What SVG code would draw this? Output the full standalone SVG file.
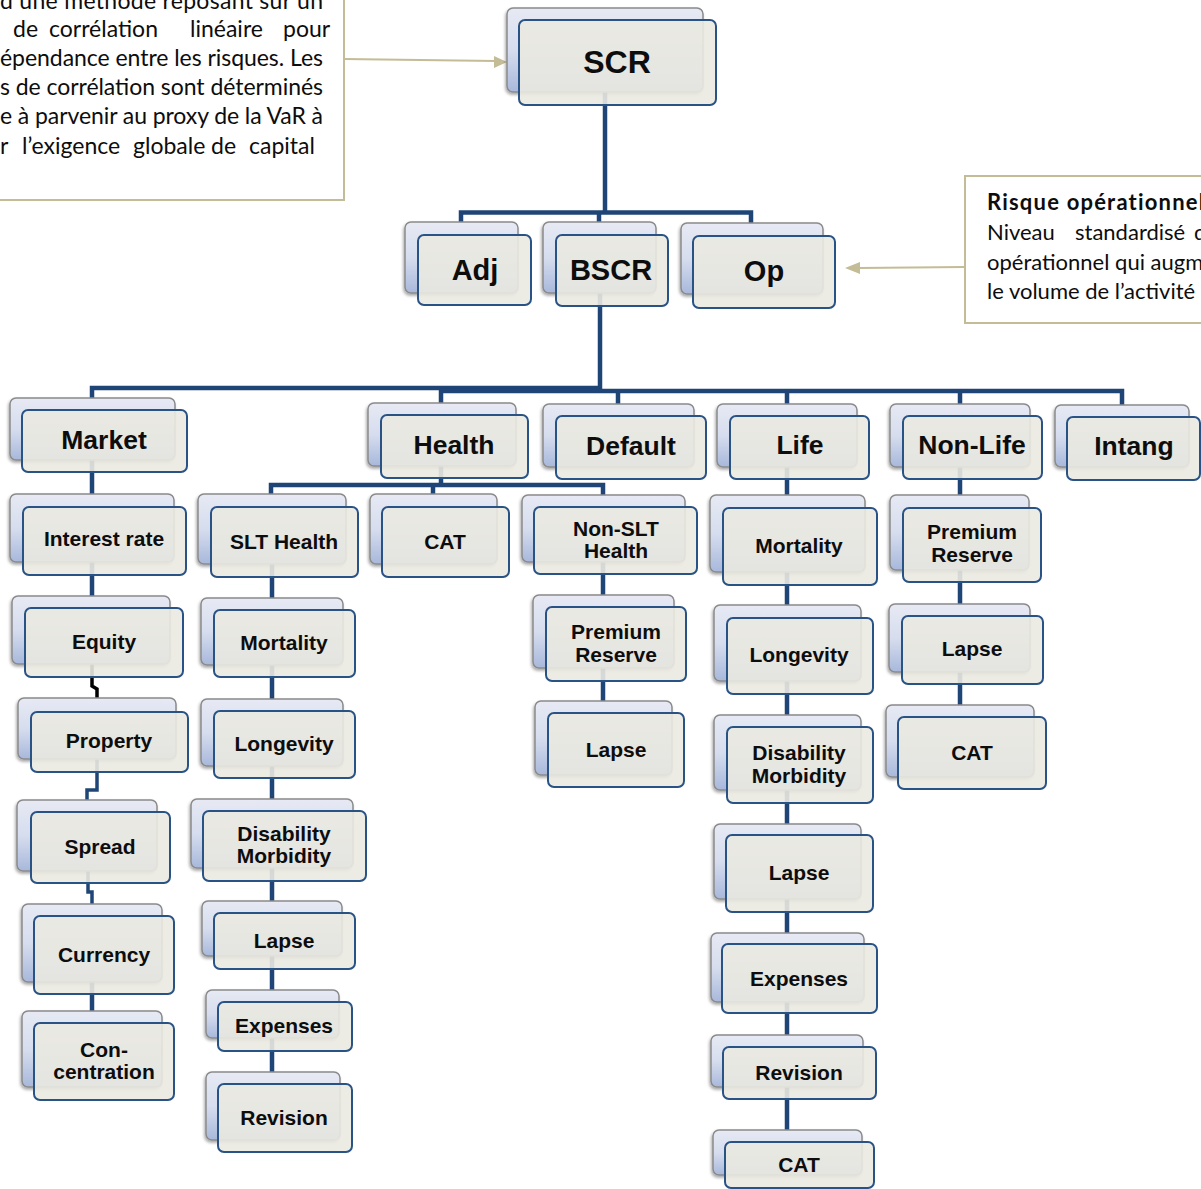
<svg xmlns="http://www.w3.org/2000/svg" width="1201" height="1189" viewBox="0 0 1201 1189">
<defs>
<linearGradient id="gb" x1="0" y1="0" x2="0" y2="1">
<stop offset="0" stop-color="#E7EAF4"/>
<stop offset="0.5" stop-color="#D6DDEE"/>
<stop offset="1" stop-color="#A8B8DB"/>
</linearGradient>
<filter id="sh" x="-10%" y="-10%" width="120%" height="130%">
<feDropShadow dx="-1" dy="2" stdDeviation="1.5" flood-color="#000" flood-opacity="0.35"/>
</filter>
</defs>
<style>
.bk{fill:url(#gb);stroke:#8A8A8A;stroke-width:1.5;filter:url(#sh)}
.fr{fill:#EAE9E1;fill-opacity:0.9;stroke:#2A5385;stroke-width:2}
.t{font-family:"Liberation Sans",Arial,sans-serif;font-weight:bold;fill:#0D0D0D;text-anchor:middle}
.t1{font-size:32px}.t2{font-size:29px}.t3{font-size:26.5px}.t4{font-size:21px}
.c{stroke:#1F4577;stroke-width:4.5;fill:none}
.cb{stroke:#000;stroke-width:3.5;fill:none}
.cj{stroke:#1F4577;stroke-width:3.5;fill:none}
.note{fill:#fff;stroke:#C4BC96;stroke-width:2}
.nt{font-family:Lato,"Open Sans",sans-serif;font-size:22px;fill:#0D0D0D}
.nl{font-size:23px}
.ar{stroke:#C4BC96;stroke-width:2;fill:none}
.ah{fill:#C4BC96}
</style>
<rect width="1201" height="1189" fill="#fff"/>

<g id="note-left">
<rect class="note" x="-10" y="-10" width="354" height="210"/>
<text class="nt nl" x="0" y="9" textLength="323" lengthAdjust="spacing">d une méthode reposant sur un</text>
<text class="nt nl" y="37"><tspan x="13">de</tspan><tspan x="49">corrélation</tspan><tspan x="190">linéaire</tspan><tspan x="283">pour</tspan></text>
<text class="nt nl" x="0" y="66" textLength="323" lengthAdjust="spacing">épendance entre les risques. Les</text>
<text class="nt nl" x="0" y="95" textLength="323" lengthAdjust="spacing">s de corrélation sont déterminés</text>
<text class="nt nl" x="0" y="124" textLength="323" lengthAdjust="spacing">e à parvenir au proxy de la VaR à</text>
<text class="nt nl" y="154"><tspan x="0">r</tspan><tspan x="22">l’exigence</tspan><tspan x="133">globale</tspan><tspan x="211">de</tspan><tspan x="249">capital</tspan></text>
</g>
<g id="note-right">
<rect class="note" x="965" y="176" width="260" height="147"/>
<text class="nt" x="987" y="210" font-weight="bold" letter-spacing="1.2">Risque opérationnel</text>
<text class="nt" y="240"><tspan x="987">Niveau</tspan><tspan x="1075">standardisé</tspan><tspan x="1194">de</tspan></text>
<text class="nt" x="987" y="270">opérationnel qui augmente</text>
<text class="nt" x="987" y="299">le volume de l’activité</text>
</g>

<g id="connectors">
<path class="ar" d="M344 59 L496 61"/>
<path class="ah" d="M507 62 L494 56 L494 68 Z"/>
<path class="ar" d="M965 267 L858 268"/>
<path class="ah" d="M845 268 L860 262 L860 274 Z"/>
<path class="c" d="M605 92 V213"/>
<path class="c" d="M461 222 V212.5 H751 V223"/>
<path class="c" d="M599 213 V222"/>
<path class="c" d="M600 293 V391"/>
<path class="c" d="M92 398 V388 H600"/>
<path class="c" d="M441 403 V391 H1122 V405"/>
<path class="c" d="M618 391 V404"/>
<path class="c" d="M787 391 V1130"/>
<path class="c" d="M960 391 V705"/>
<path class="c" d="M92 460 V596"/>
<path class="cb" d="M92 664 V686 L97 689 V698"/>
<path class="cj" d="M97 759 V790 H87 V800"/>
<path class="cj" d="M88 871 V892 H92 V904"/>
<path class="c" d="M92 982 V1011"/>
<path class="c" d="M441 466 V485"/>
<path class="c" d="M271 494 V485 H603 V495"/>
<path class="c" d="M433 485 V494"/>
<path class="c" d="M272 564 V1072"/>
<path class="c" d="M603 562 V701"/>
</g>

<g id="scr"><rect class="bk" x="507" y="8" width="196" height="84" rx="6"/><rect class="fr" x="519" y="20" width="197" height="85" rx="6"/><text class="t t1" x="617" y="73">SCR</text></g>
<g id="adj"><rect class="bk" x="405" y="222" width="113" height="71" rx="6"/><rect class="fr" x="418" y="235" width="113" height="70" rx="6"/><text class="t t2" x="475" y="280">Adj</text></g>
<g id="bscr"><rect class="bk" x="543" y="222" width="113" height="71" rx="6"/><rect class="fr" x="556" y="235" width="112" height="71" rx="6"/><text class="t t2" x="611" y="280">BSCR</text></g>
<g id="op"><rect class="bk" x="681" y="223" width="142" height="71" rx="6"/><rect class="fr" x="693" y="236" width="142" height="72" rx="6"/><text class="t t2" x="764" y="281">Op</text></g>

<g id="market"><rect class="bk" x="10" y="398" width="165" height="62" rx="6"/><rect class="fr" x="22" y="410" width="165" height="62" rx="6"/><text class="t t3" x="104" y="449">Market</text></g>
<g id="health"><rect class="bk" x="368" y="403" width="148" height="63" rx="6"/><rect class="fr" x="381" y="415" width="147" height="63" rx="6"/><text class="t t3" x="454" y="454">Health</text></g>
<g id="default"><rect class="bk" x="543" y="404" width="151" height="63" rx="6"/><rect class="fr" x="556" y="416" width="150" height="63" rx="6"/><text class="t t3" x="631" y="455">Default</text></g>
<g id="life"><rect class="bk" x="717" y="404" width="140" height="63" rx="6"/><rect class="fr" x="730" y="416" width="139" height="63" rx="6"/><text class="t t3" x="800" y="454">Life</text></g>
<g id="nonlife"><rect class="bk" x="890" y="404" width="140" height="63" rx="6"/><rect class="fr" x="903" y="416" width="139" height="63" rx="6"/><text class="t t3" x="972" y="454">Non-Life</text></g>
<g id="intang"><rect class="bk" x="1055" y="405" width="134" height="62" rx="6"/><rect class="fr" x="1067" y="417" width="133" height="63" rx="6"/><text class="t t3" x="1134" y="455">Intang</text></g>

<g id="mkt-interest"><rect class="bk" x="10" y="494" width="164" height="68" rx="6"/><rect class="fr" x="23" y="507" width="163" height="68" rx="6"/><text class="t t4" x="104" y="546">Interest rate</text></g>
<g id="mkt-equity"><rect class="bk" x="12" y="596" width="158" height="68" rx="6"/><rect class="fr" x="25" y="608" width="158" height="69" rx="6"/><text class="t t4" x="104" y="649">Equity</text></g>
<g id="mkt-property"><rect class="bk" x="18" y="698" width="158" height="61" rx="6"/><rect class="fr" x="31" y="712" width="157" height="60" rx="6"/><text class="t t4" x="109" y="748">Property</text></g>
<g id="mkt-spread"><rect class="bk" x="17" y="800" width="140" height="71" rx="6"/><rect class="fr" x="31" y="812" width="139" height="71" rx="6"/><text class="t t4" x="100" y="854">Spread</text></g>
<g id="mkt-currency"><rect class="bk" x="22" y="904" width="140" height="78" rx="6"/><rect class="fr" x="34" y="916" width="140" height="78" rx="6"/><text class="t t4" x="104" y="962">Currency</text></g>
<g id="mkt-concentration"><rect class="bk" x="22" y="1011" width="140" height="76" rx="6"/><rect class="fr" x="34" y="1023" width="140" height="77" rx="6"/><text class="t t4" x="104" y="1057">Con-</text><text class="t t4" x="104" y="1079">centration</text></g>

<g id="slt-health"><rect class="bk" x="198" y="494" width="148" height="70" rx="6"/><rect class="fr" x="211" y="507" width="147" height="70" rx="6"/><text class="t t4" x="284" y="549">SLT Health</text></g>
<g id="health-cat"><rect class="bk" x="370" y="494" width="127" height="70" rx="6"/><rect class="fr" x="382" y="507" width="127" height="70" rx="6"/><text class="t t4" x="445" y="549">CAT</text></g>
<g id="slt-mortality"><rect class="bk" x="201" y="598" width="142" height="67" rx="6"/><rect class="fr" x="214" y="610" width="141" height="67" rx="6"/><text class="t t4" x="284" y="650">Mortality</text></g>
<g id="slt-longevity"><rect class="bk" x="201" y="699" width="142" height="67" rx="6"/><rect class="fr" x="214" y="711" width="141" height="67" rx="6"/><text class="t t4" x="284" y="751">Longevity</text></g>
<g id="slt-disability"><rect class="bk" x="191" y="799" width="162" height="69" rx="6"/><rect class="fr" x="203" y="811" width="163" height="70" rx="6"/><text class="t t4" x="284" y="841">Disability</text><text class="t t4" x="284" y="863">Morbidity</text></g>
<g id="slt-lapse"><rect class="bk" x="202" y="901" width="140" height="55" rx="6"/><rect class="fr" x="214" y="913" width="141" height="56" rx="6"/><text class="t t4" x="284" y="948">Lapse</text></g>
<g id="slt-expenses"><rect class="bk" x="206" y="990" width="133" height="48" rx="6"/><rect class="fr" x="218" y="1002" width="134" height="49" rx="6"/><text class="t t4" x="284" y="1033">Expenses</text></g>
<g id="slt-revision"><rect class="bk" x="206" y="1072" width="134" height="68" rx="6"/><rect class="fr" x="218" y="1084" width="134" height="68" rx="6"/><text class="t t4" x="284" y="1125">Revision</text></g>

<g id="nonslt-health"><rect class="bk" x="522" y="495" width="163" height="67" rx="6"/><rect class="fr" x="534" y="507" width="163" height="67" rx="6"/><text class="t t4" x="616" y="536">Non-SLT</text><text class="t t4" x="616" y="558">Health</text></g>
<g id="nonslt-premium"><rect class="bk" x="533" y="595" width="141" height="73" rx="6"/><rect class="fr" x="546" y="607" width="140" height="74" rx="6"/><text class="t t4" x="616" y="639">Premium</text><text class="t t4" x="616" y="662">Reserve</text></g>
<g id="nonslt-lapse"><rect class="bk" x="535" y="701" width="137" height="74" rx="6"/><rect class="fr" x="548" y="713" width="136" height="74" rx="6"/><text class="t t4" x="616" y="757">Lapse</text></g>

<g id="life-mortality"><rect class="bk" x="710" y="495" width="155" height="77" rx="6"/><rect class="fr" x="723" y="508" width="154" height="77" rx="6"/><text class="t t4" x="799" y="553">Mortality</text></g>
<g id="life-longevity"><rect class="bk" x="714" y="605" width="147" height="76" rx="6"/><rect class="fr" x="727" y="618" width="146" height="76" rx="6"/><text class="t t4" x="799" y="662">Longevity</text></g>
<g id="life-disability"><rect class="bk" x="714" y="715" width="147" height="75" rx="6"/><rect class="fr" x="727" y="727" width="146" height="76" rx="6"/><text class="t t4" x="799" y="760">Disability</text><text class="t t4" x="799" y="783">Morbidity</text></g>
<g id="life-lapse"><rect class="bk" x="714" y="824" width="147" height="75" rx="6"/><rect class="fr" x="726" y="835" width="147" height="77" rx="6"/><text class="t t4" x="799" y="880">Lapse</text></g>
<g id="life-expenses"><rect class="bk" x="711" y="933" width="153" height="69" rx="6"/><rect class="fr" x="722" y="944" width="155" height="69" rx="6"/><text class="t t4" x="799" y="986">Expenses</text></g>
<g id="life-revision"><rect class="bk" x="711" y="1035" width="152" height="52" rx="6"/><rect class="fr" x="723" y="1047" width="153" height="52" rx="6"/><text class="t t4" x="799" y="1080">Revision</text></g>
<g id="life-cat"><rect class="bk" x="713" y="1130" width="149" height="45" rx="6"/><rect class="fr" x="725" y="1142" width="149" height="46" rx="6"/><text class="t t4" x="799" y="1172">CAT</text></g>

<g id="nl-premium"><rect class="bk" x="890" y="495" width="139" height="75" rx="6"/><rect class="fr" x="903" y="508" width="138" height="74" rx="6"/><text class="t t4" x="972" y="539">Premium</text><text class="t t4" x="972" y="562">Reserve</text></g>
<g id="nl-lapse"><rect class="bk" x="889" y="604" width="141" height="68" rx="6"/><rect class="fr" x="902" y="616" width="141" height="68" rx="6"/><text class="t t4" x="972" y="656">Lapse</text></g>
<g id="nl-cat"><rect class="bk" x="886" y="705" width="148" height="72" rx="6"/><rect class="fr" x="898" y="717" width="148" height="72" rx="6"/><text class="t t4" x="972" y="760">CAT</text></g>
</svg>
